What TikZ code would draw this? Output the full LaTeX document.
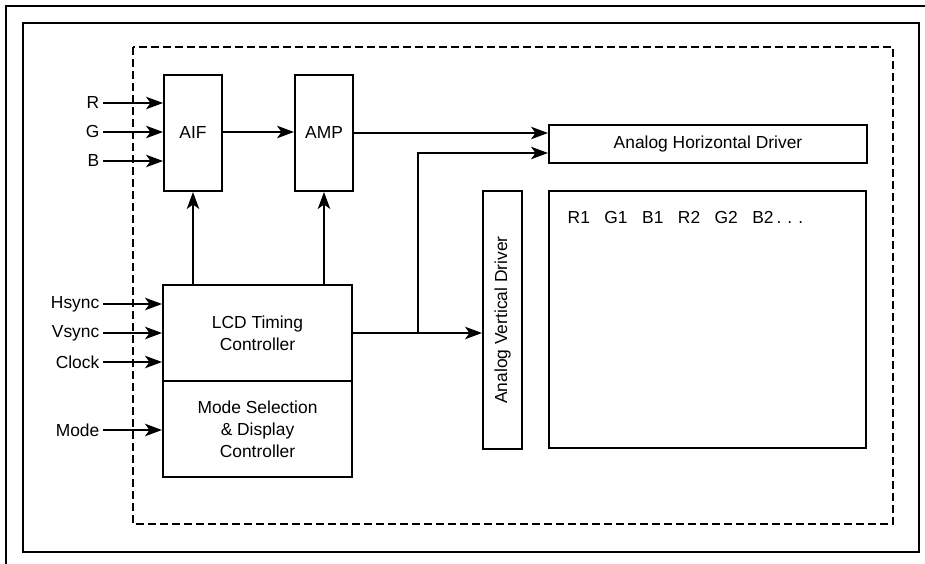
\documentclass[tikz,border=0pt]{standalone}
\usepackage{fontspec}
\setmainfont{Liberation Sans}
\usetikzlibrary{arrows.meta}
\tikzset{
  blk/.style={draw, line width=2pt, inner sep=0pt, align=center},
  lbl/.style={anchor=east, inner sep=3.5pt},
  arr/.style={line width=1.3pt, -{Stealth[length=17pt,width=12.5pt,inset=4.5pt]}},
  frm/.style={line width=2pt},
  dsh/.style={line width=1.4pt, dash pattern=on 8pt off 4pt}
}
\begin{document}
\begin{tikzpicture}[x=1pt,y=-1pt,font=\fontsize{17.4}{22}\selectfont]
\useasboundingbox[fill=white] (0,0) rectangle (925,564);
% frames
\draw[frm] (6,564) -- (6,6) -- (925,6);
\draw[frm] (23,23) rectangle (919,552);
\draw[dsh] (133,47) rectangle (893,524);
% blocks
\node[blk, minimum width=58pt, minimum height=116pt] (aif) at (193,133) {AIF};
\node[blk, minimum width=58pt, minimum height=116pt] (amp) at (324,133) {AMP};
\node[blk, minimum width=189pt, minimum height=96pt] (lcd) at (257.5,333) {LCD Timing\\Controller};
\node[blk, minimum width=189pt, minimum height=96pt] (mode) at (257.5,429) {Mode Selection\\\& Display\\Controller};
\node[blk, minimum width=318pt, minimum height=38pt] (hd) at (708,144) {Analog Horizontal Driver};
\node[blk, minimum width=39pt, minimum height=258pt] (avd) at (502.5,320) {};
\node[rotate=90] (avdt) at (avd.center) {Analog Vertical Driver};
\node[blk, minimum width=317pt, minimum height=257pt] (disp) at (707.5,319.5) {};
\node[anchor=west, inner sep=0pt] (seq) at (567.5,218) {R1\hspace{14.5pt}G1\hspace{14.5pt}B1\hspace{14.5pt}R2\hspace{14.5pt}G2\hspace{14.5pt}B2\hspace{3pt}.\hspace{6pt}.\hspace{6pt}.};
% input labels
\node[lbl] (r) at (103,103) {R};
\node[lbl] (g) at (103,132) {G};
\node[lbl] (b) at (103,161) {B};
\node[lbl] (hs) at (103,304) {Hsync};
\node[lbl] (vs) at (103,333) {Vsync};
\node[lbl] (ck) at (103,362) {Clock};
\node[lbl] (md) at (103,430) {Mode};
% input arrows
\foreach \n/\t in {r/aif,g/aif,b/aif,hs/lcd,vs/lcd,ck/lcd,md/mode}
  \draw[arr] (\n.east) -- (\n.east -| \t.west);
% internal connections
\draw[arr] (aif.east |- g.east) -- (amp.west |- g.east);
\draw[arr] (aif.south |- lcd.north) -- (aif.south);
\draw[arr] (amp.south |- lcd.north) -- (amp.south);
\draw[arr] (amp.east) -- (amp.east -| hd.west);
\draw[arr] (lcd.east) -- (lcd.east -| avd.west);
\coordinate (j) at (418,333);
\draw[arr] (j) |- ([yshift=-9pt]hd.west);
\end{tikzpicture}
\end{document}
